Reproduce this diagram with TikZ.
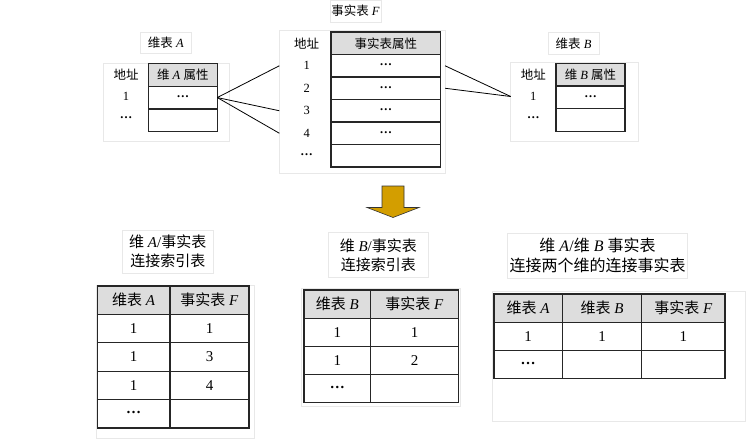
\documentclass[tikz,border=0pt]{standalone}
\usepackage{fontspec}
\setmainfont{Liberation Serif}
\newfontfamily\cjkfont{Noto Sans CJK SC}
\newcommand{\zh}[1]{{\cjkfont #1}}
\newcommand{\moredots}{\raisebox{.3ex}{\textbf{…}}}
\usetikzlibrary{positioning,calc}
\definecolor{hdrgray}{RGB}{221,221,221}
\definecolor{panelgray}{RGB}{232,232,232}
\definecolor{arrowgold}{RGB}{211,158,0}

\begin{document}
\begin{tikzpicture}[x=1pt,y=-1pt,
  cell/.style={draw=black!85,line width=1.2pt,inner sep=0pt,outer sep=0pt},
  hdr/.style={cell,fill=hdrgray},
  small/.style={font=\fontsize{12.5}{14}\selectfont},
  big/.style={font=\fontsize{15}{18}\selectfont},
  panel/.style={draw=panelgray,line width=0.7pt,inner sep=0pt,outer sep=0pt},
  caption/.style={draw=panelgray,fill=white,line width=0.7pt,align=center,inner sep=0pt},
  link/.style={line width=0.8pt}]
\useasboundingbox (0,0) rectangle (747,440);

% faint panels behind the tables
\node[panel,minimum width=126,minimum height=78] (pa) at (166,102) {};
\node[panel,minimum width=165.7,minimum height=143] (pf) at (362.2,101.5) {};
\node[panel,minimum width=127.6,minimum height=78.3] (pb) at (574.5,101.9) {};
\node[panel,minimum width=157.3,minimum height=153] (paf) at (175.4,361.5) {};
\node[panel,minimum width=159,minimum height=118.7] (pbf) at (381.2,347.4) {};
\node[panel,minimum width=252.3,minimum height=129.3] (pabf) at (618.9,356.4) {};

% table names
\node[caption,small,minimum width=50.3,minimum height=21] (capa) at (165.9,42.5) {\zh{维表}~\textit{A}};
\node[caption,small,minimum width=51,minimum height=21.7] (capf) at (355.5,11) {\zh{事实表}~\textit{F}};
\node[caption,small,minimum width=51,minimum height=21.3] (capb) at (573.5,43.3) {\zh{维表}~\textit{B}};

% dimension table A
\node[hdr,small,minimum width=69,minimum height=22.7] (ah) at (182.8,74.85) {\zh{维}~\textit{A}~\zh{属性}};
\node[cell,small,minimum width=69,minimum height=22.7,below=0pt of ah] (a1) {\moredots};
\node[cell,small,minimum width=69,minimum height=22.7,below=0pt of a1] (a2) {};
\foreach \t [count=\i from 0] in {\zh{地址},1,\moredots}
  \node[small] (aadr\i) at (126,75+\i*21.5) {\t};

% fact table F
\node[hdr,small,minimum width=109.7,minimum height=22.5] (fh) at (385.85,43.25) {\zh{事实表属性}};
\foreach \v [count=\i] in {\moredots,\moredots,\moredots,\moredots,{}} {
  \node[cell,small,minimum width=109.7,minimum height=22.5] (f\i) at (385.85,43.25+\i*22.5) {\v};
}
\foreach \t [count=\i from 0] in {\zh{地址},1,2,3,4,\moredots}
  \node[small] (fadr\i) at (306.7,43.25+\i*22.5) {\t};

% dimension table B
\node[hdr,small,minimum width=69,minimum height=22.6] (bh) at (590.5,74.6) {\zh{维}~\textit{B}~\zh{属性}};
\node[cell,small,minimum width=69,minimum height=22.6,below=0pt of bh] (b1) {\moredots};
\node[cell,small,minimum width=69,minimum height=22.6,below=0pt of b1] (b2) {};
\foreach \t [count=\i from 0] in {\zh{地址},1,\moredots}
  \node[small] (badr\i) at (533.3,75+\i*21.5) {\t};

% links between rows
\draw[link] (a1.east) -- (pf.west |- fadr1);
\draw[link] (a1.east) -- (pf.west |- fadr3);
\draw[link] (a1.east) -- (pf.west |- fadr4);
\draw[link] (pf.east |- f1) -- (pb.west |- badr1);
\draw[link] (pf.east |- f2) -- (pb.west |- badr1);

% big arrow down
\draw[fill=arrowgold,draw=black!80,line width=0.6pt]
  (382,186) -- (404,186) -- (404,207.5) -- (419,207.5) -- (393,217.5)
  -- (367,207.5) -- (382,207.5) -- cycle;

% A/F join index
\node[caption,big,minimum width=91,minimum height=43.3] (capaf) at (167.8,251.7)
  {\zh{维}~\textit{A}/\zh{事实表}\\[1pt]\zh{连接索引表}};
\node[hdr,big,minimum width=72.7,minimum height=28.4] (jah1) at (133.65,300.2) {\zh{维表}~\textit{A}};
\node[hdr,big,minimum width=79,minimum height=28.4,right=0pt of jah1] (jah2) {\zh{事实表}~\textit{F}};
\foreach \a/\f [count=\i] in {1/1,1/3,1/4,{\moredots}/{}} {
  \node[cell,big,minimum width=72.7,minimum height=28.4] (ja\i) at (133.65,300.2+\i*28.4) {\a};
  \node[cell,big,minimum width=79,minimum height=28.4,right=0pt of ja\i] (jf\i) {\f};
}

% B/F join index
\node[caption,big,minimum width=100,minimum height=44.6] (capbf) at (378.3,255)
  {\zh{维}~\textit{B}/\zh{事实表}\\[1pt]\zh{连接索引表}};
\node[hdr,big,minimum width=66.7,minimum height=28.2] (kbh1) at (337.35,304.1) {\zh{维表}~\textit{B}};
\node[hdr,big,minimum width=87.6,minimum height=28.2,right=0pt of kbh1] (kbh2) {\zh{事实表}~\textit{F}};
\foreach \b/\f [count=\i] in {1/1,1/2,{\moredots}/{}} {
  \node[cell,big,minimum width=66.7,minimum height=28.2] (kb\i) at (337.35,304.1+\i*28.2) {\b};
  \node[cell,big,minimum width=87.6,minimum height=28.2,right=0pt of kb\i] (kf\i) {\f};
}

% A/B/F star join table
\node[caption,big,font=\fontsize{16}{19}\selectfont,minimum width=179.6,minimum height=45] (capabf) at (597.5,255.8)
  {\zh{维}~\textit{A}/\zh{维}~\textit{B}~\zh{事实表}\\[1pt]\zh{连接两个维的连接事实表}};
\node[hdr,big,minimum width=68.3,minimum height=28.1] (sh1) at (528.15,308.05) {\zh{维表}~\textit{A}};
\node[hdr,big,minimum width=79.4,minimum height=28.1,right=0pt of sh1] (sh2) {\zh{维表}~\textit{B}};
\node[hdr,big,minimum width=83.3,minimum height=28.1,right=0pt of sh2] (sh3) {\zh{事实表}~\textit{F}};
\foreach \a/\b/\f [count=\i] in {1/1/1,{\moredots}/{}/{}} {
  \node[cell,big,minimum width=68.3,minimum height=28.1] (sa\i) at (528.15,308.05+\i*28.1) {\a};
  \node[cell,big,minimum width=79.4,minimum height=28.1,right=0pt of sa\i] (sb\i) {\b};
  \node[cell,big,minimum width=83.3,minimum height=28.1,right=0pt of sb\i] (sf\i) {\f};
}
\end{tikzpicture}
\end{document}
